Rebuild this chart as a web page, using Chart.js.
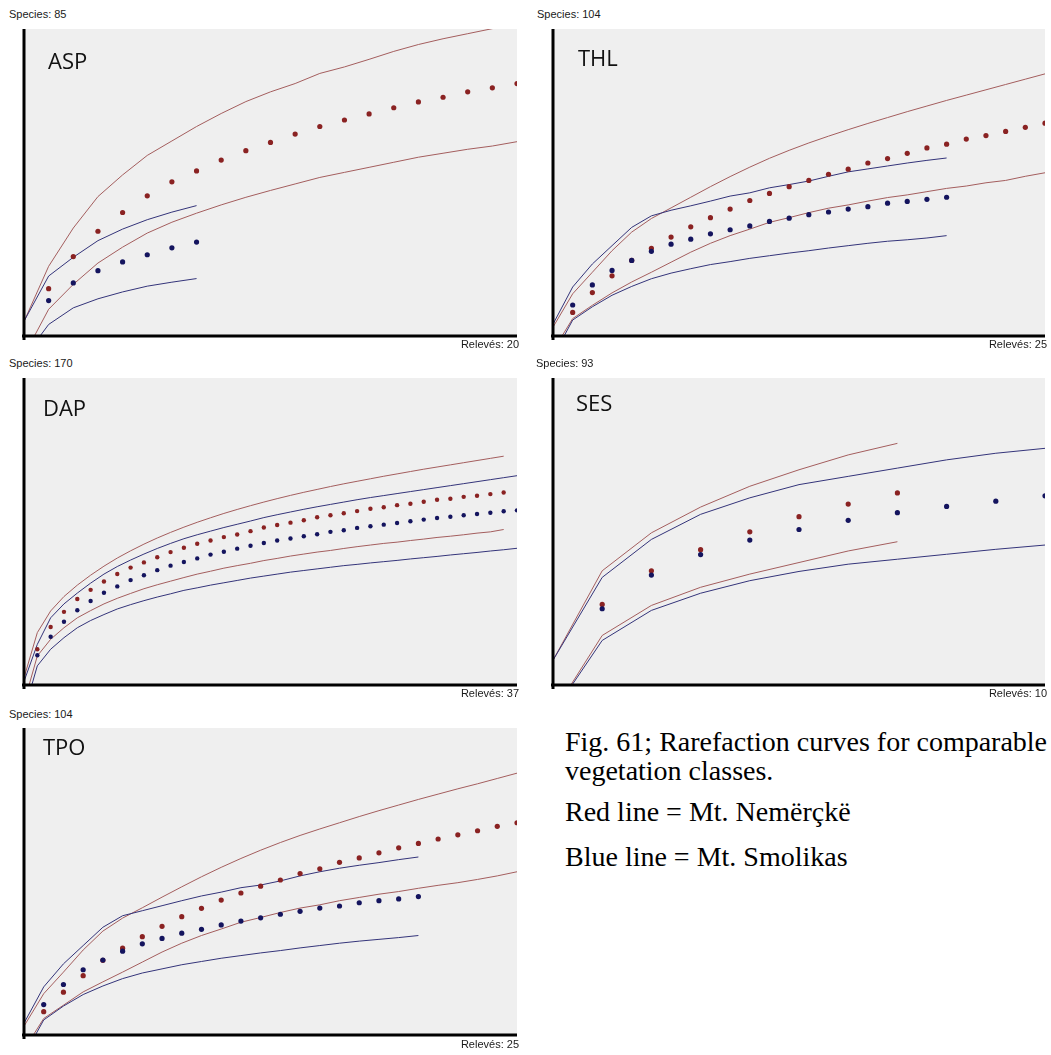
<!DOCTYPE html>
<html>
<head>
<meta charset="utf-8">
<script src="https://cdn.jsdelivr.net/npm/chart.js@4/dist/chart.umd.min.js"></script>
<style>
  html, body { margin: 0; padding: 0; background: #ffffff; }
  body { width: 1051px; height: 1055px; position: relative; overflow: hidden; }
  canvas { position: absolute; }
  .sp { position: absolute; font-family: "Liberation Sans", Arial, sans-serif; font-size: 11px; line-height: 11px; color: #1a1a1a; white-space: nowrap; }
  .rl { position: absolute; font-family: "Liberation Sans", Arial, sans-serif; font-size: 11px; line-height: 11px; color: #1a1a1a; white-space: nowrap; text-align: right; width: 120px; }
  .nm { position: absolute; font-family: "Open Sans", "Noto Sans", sans-serif; font-size: 22px; line-height: 22px; color: #111; white-space: nowrap; }
  .cap { position: absolute; font-family: "Liberation Serif", "Times New Roman", serif; font-size: 28px; line-height: 30px; color: #000; white-space: nowrap; }
</style>
</head>
<body>
<script>
// ---------- panel meta ----------
const panelNames = ['ASP', 'THL', 'DAP', 'SES', 'TPO'];
const panelSpeciesMax = [85, 104, 170, 93, 104];
const panelRelevesMax = [20, 25, 37, 10, 25];

// ---------- ASP (means start at relevé 1, bounds at relevé 0) ----------
const aspRedMean  = [13.1, 22.0, 29.0, 34.2, 38.8, 42.7, 45.7, 48.7, 51.3, 53.6, 55.9, 58.0, 59.8, 61.5, 63.2, 64.8, 66.1, 67.6, 68.7, 69.9];
const aspRedUpper = [4, 19.3, 29.9, 38.6, 44.6, 50.0, 54.0, 58.0, 61.6, 64.9, 67.6, 69.9, 72.7, 74.5, 76.6, 78.8, 80.7, 82.3, 83.7, 85.1, 86.6];
const aspRedLower = [-5.4, 7.4, 14.3, 20.2, 24.6, 28.5, 31.5, 34.0, 36.3, 38.4, 40.3, 42.1, 43.9, 45.3, 46.7, 48.1, 49.5, 50.6, 51.7, 52.6, 53.8];
const aspBlueMean  = [9.8, 14.7, 18.1, 20.5, 22.5, 24.4, 26.0];
const aspBlueUpper = [4.1, 16.6, 21.8, 26.4, 29.6, 32.2, 34.3, 36.1];
const aspBlueLower = [-6, 3.2, 7.8, 10.3, 12.2, 13.8, 14.9, 15.9];

// ---------- THL ----------
const thlRedMean  = [8.0, 14.7, 20.4, 25.6, 29.7, 33.5, 37.0, 40.1, 43.0, 45.9, 48.3, 50.6, 52.7, 54.8, 56.5, 58.6, 60.1, 61.9, 63.7, 65.0, 66.7, 67.9, 69.3, 70.7, 72.1];
const thlRedUpper = [3, 14.3, 21.6, 28.9, 35.2, 39.8, 43.4, 47.0, 50.6, 54.0, 57.2, 60.2, 62.9, 65.4, 67.7, 69.9, 72.0, 74.0, 76.0, 77.9, 79.8, 81.6, 83.4, 85.2, 87.0, 88.8];
const thlRedLower = [-5, 5.9, 10.4, 14.6, 18.3, 21.6, 25.0, 28.4, 31.4, 34.0, 36.2, 38.5, 40.1, 41.8, 43.3, 44.4, 45.7, 46.9, 47.8, 48.9, 50.0, 50.8, 51.9, 52.7, 54.1, 55.3];
const thlBlueMean  = [10.5, 17.3, 22.2, 25.6, 28.7, 31.1, 32.8, 34.6, 36.0, 37.3, 38.8, 39.9, 41.1, 42.0, 43.0, 43.8, 45.0, 45.6, 46.3, 47.0];
const thlBlueUpper = [4, 16.6, 24.4, 30.6, 36.8, 40.7, 42.6, 44.1, 45.7, 47.4, 48.5, 50.2, 51.3, 52.5, 54.1, 55.6, 56.6, 57.6, 58.6, 59.5, 60.3];
const thlBlueLower = [-7, 5.4, 9.9, 13.8, 16.8, 19.4, 21.3, 22.8, 24.2, 25.2, 26.3, 27.2, 28.1, 28.9, 29.8, 30.6, 31.4, 32.1, 32.6, 33.2, 34.0];

// ---------- DAP ----------
const dapRedMean  = [19.8, 32.1, 40.5, 47.6, 52.7, 57.3, 61.5, 65.0, 67.9, 70.7, 73.6, 76.0, 78.2, 80.0, 81.9, 83.3, 85.2, 87.2, 88.6, 89.9, 91.2, 92.9, 94.0, 95.1, 96.3, 97.6, 98.4, 99.6, 100.4, 101.5, 102.6, 103.1, 104.2, 104.8, 105.7, 106.6];
const dapRedUpper = [4, 29, 41.0, 49.0, 55.3, 60.8, 65.8, 70.3, 74.3, 78.0, 81.4, 84.5, 87.4, 90.1, 92.6, 95.0, 97.2, 99.3, 101.3, 103.2, 105.0, 106.7, 108.3, 109.9, 111.4, 112.8, 114.2, 115.6, 116.9, 118.2, 119.5, 120.7, 121.9, 123.1, 124.3, 125.5, 126.7];
const dapRedLower = [-10, 16.1, 25.3, 31.7, 37.2, 41.2, 44.9, 48.0, 50.7, 53.3, 55.5, 57.5, 59.5, 61.4, 63.0, 64.7, 66.1, 67.4, 68.9, 70.1, 71.4, 72.5, 73.6, 74.5, 75.6, 76.6, 77.5, 78.4, 79.1, 80.0, 80.8, 81.7, 82.4, 83.2, 84.1, 84.8, 86.1];
const dapBlueMean  = [16.5, 26.7, 35.0, 41.4, 46.5, 51.1, 54.6, 58.1, 60.8, 63.6, 66.1, 68.1, 70.1, 72.2, 73.8, 75.5, 77.1, 78.6, 80.0, 81.1, 82.4, 83.5, 84.8, 85.7, 87.0, 87.9, 88.8, 89.7, 90.7, 91.6, 92.5, 93.2, 94.0, 94.7, 95.4, 96.2, 96.7];
const dapBlueUpper = [2, 22.5, 37.2, 44.9, 50.9, 56.4, 61.4, 65.6, 69.2, 72.5, 75.6, 78.4, 81.0, 83.2, 85.2, 87.2, 89.0, 90.8, 92.7, 94.3, 95.8, 97.3, 98.7, 100.0, 101.3, 102.6, 103.8, 104.9, 106.0, 107.1, 108.2, 109.3, 110.4, 111.5, 112.6, 113.7, 114.8, 115.9];
const dapBlueLower = [-15, 10.6, 19.8, 26.2, 31.7, 35.7, 39.0, 42.1, 44.5, 46.7, 48.7, 50.5, 52.4, 53.8, 55.3, 56.6, 57.9, 59.2, 60.3, 61.4, 62.5, 63.4, 64.3, 65.2, 66.1, 66.8, 67.6, 68.3, 69.0, 69.8, 70.5, 71.2, 72.0, 72.7, 73.4, 74.2, 74.9, 75.7];

// ---------- SES ----------
const sesRedMean  = [24.4, 34.6, 41.0, 46.4, 51.0, 54.8, 58.2];
const sesRedUpper = [7.5, 34.6, 46.1, 53.9, 60.2, 65.2, 69.7, 73.2];
const sesRedLower = [-8.5, 15.0, 24.1, 29.6, 33.6, 37.1, 40.6, 43.4];
const sesBlueMean  = [23.1, 33.3, 39.5, 43.9, 47.1, 49.9, 52.2, 54.1, 55.7, 57.3];
const sesBlueUpper = [7.5, 32.6, 44.1, 51.7, 56.7, 60.7, 63.2, 65.7, 68.2, 70.2, 71.7];
const sesBlueLower = [-8.5, 13.5, 22.6, 27.8, 31.6, 34.4, 36.6, 38.1, 39.6, 41.1, 42.4];

// ---------- TPO ----------
const tpoRedMean  = [7.9, 14.5, 20.1, 25.3, 29.4, 33.3, 36.8, 40.1, 42.9, 45.7, 48.1, 50.4, 52.5, 54.7, 56.3, 58.5, 60.0, 61.7, 63.4, 64.9, 66.4, 67.8, 69.2, 70.7, 71.9];
const tpoRedUpper = [3, 14.0, 21.3, 28.8, 35.2, 39.6, 43.1, 46.7, 50.2, 53.6, 56.8, 59.8, 62.6, 65.2, 67.6, 69.8, 71.9, 74.0, 76.0, 77.9, 79.8, 81.6, 83.4, 85.1, 86.9, 88.7];
const tpoRedLower = [-5, 5.6, 10.1, 14.6, 18.0, 21.3, 24.7, 28.1, 31.1, 33.7, 35.9, 38.2, 39.8, 41.5, 43.0, 44.1, 45.5, 46.6, 47.7, 48.6, 49.7, 50.7, 51.6, 52.7, 53.9, 55.3];
const tpoBlueMean  = [10.3, 17.1, 22.1, 25.4, 28.4, 30.9, 32.7, 34.5, 35.8, 37.3, 38.6, 39.7, 40.9, 41.9, 43.0, 43.7, 44.8, 45.5, 46.1, 46.9];
const tpoBlueUpper = [4, 16.3, 24.1, 30.3, 36.5, 40.4, 42.1, 43.8, 45.5, 47.1, 48.4, 49.9, 50.8, 52.2, 53.9, 55.3, 56.5, 57.5, 58.4, 59.4, 60.3];
const tpoBlueLower = [-7, 5.1, 9.8, 13.7, 16.6, 19.1, 21.0, 22.4, 23.8, 24.9, 26.0, 26.9, 27.8, 28.6, 29.5, 30.3, 31.1, 31.8, 32.4, 33.0, 33.7];

// ---------- caption ----------
const captionLines = ['Fig. 61; Rarefaction curves for comparable', 'vegetation classes.'];
const legendRed = 'Red line = Mt. Nemërçkë';
const legendBlue = 'Blue line = Mt. Smolikas';

// ---------- styling / layout ----------
const RED_DOT = '#8a2222';
const BLUE_DOT = '#14145e';
const RED_LINE = '#a45e5e';
const BLUE_LINE = '#34347a';
const PLOT_BG = '#efefef';

const seriesSets = [
  [aspRedMean, aspRedUpper, aspRedLower, aspBlueMean, aspBlueUpper, aspBlueLower],
  [thlRedMean, thlRedUpper, thlRedLower, thlBlueMean, thlBlueUpper, thlBlueLower],
  [dapRedMean, dapRedUpper, dapRedLower, dapBlueMean, dapBlueUpper, dapBlueLower],
  [sesRedMean, sesRedUpper, sesRedLower, sesBlueMean, sesBlueUpper, sesBlueLower],
  [tpoRedMean, tpoRedUpper, tpoRedLower, tpoBlueMean, tpoBlueUpper, tpoBlueLower]
];

// plot rectangles (page px): left, top, right, bottom ; label positions
const layouts = [
  {l: 24,  t: 27,  r: 517,  b: 336,  spX: 9,   spY: 15,  relY: 345,  relR: 519,  nmX: 48,  nmT: 49,  dot: 2.6},
  {l: 553, t: 27,  r: 1045, b: 336,  spX: 537, spY: 15,  relY: 345,  relR: 1047, nmX: 578, nmT: 46,  dot: 2.6},
  {l: 24,  t: 376, r: 517,  b: 685,  spX: 9,   spY: 364, relY: 694,  relR: 519,  nmX: 43,  nmT: 396, dot: 2.2},
  {l: 553, t: 376, r: 1045, b: 685,  spX: 536, spY: 364, relY: 694,  relR: 1047, nmX: 576, nmT: 391, dot: 2.6},
  {l: 24,  t: 726, r: 517,  b: 1035, spX: 9,   spY: 715, relY: 1045, relR: 519,  nmX: 43,  nmT: 735, dot: 2.6}
];

const PADL = 4, PADT = 2, PADR = 4, PADB = 8;

function toPoints(arr, start) {
  return arr.map((v, i) => ({x: i + start, y: v}));
}

const frame = {
  id: 'frame',
  beforeDatasetsDraw(chart) {
    const a = chart.chartArea, c = chart.ctx;
    c.save();
    c.fillStyle = PLOT_BG;
    c.fillRect(a.left, a.top, a.right - a.left, a.bottom - a.top);
    c.restore();
  },
  afterDraw(chart) {
    const a = chart.chartArea, c = chart.ctx;
    c.save();
    c.strokeStyle = '#000';
    c.lineWidth = 3;
    c.beginPath();
    c.moveTo(a.left, a.top);
    c.lineTo(a.left, a.bottom + 4);
    c.stroke();
    c.beginPath();
    c.moveTo(a.left - 2, a.bottom);
    c.lineTo(a.right, a.bottom);
    c.stroke();
    c.restore();
  }
};

function addDiv(cls, text, styles) {
  const d = document.createElement('div');
  d.className = cls;
  d.textContent = text;
  Object.assign(d.style, styles);
  document.body.appendChild(d);
  return d;
}

panelNames.forEach((name, p) => {
  const L = layouts[p];
  const [rm, ru, rlo, bm, bu, blo] = seriesSets[p];
  const cv = document.createElement('canvas');
  const w = L.r - L.l + PADL + PADR;
  const h = L.b - L.t + PADT + PADB;
  cv.width = w; cv.height = h;
  cv.style.left = (L.l - PADL) + 'px';
  cv.style.top = (L.t - PADT) + 'px';
  cv.style.width = w + 'px';
  cv.style.height = h + 'px';
  document.body.appendChild(cv);

  const lineDs = (arr, col) => ({data: toPoints(arr, 0), showLine: true, borderColor: col, borderWidth: 1, pointRadius: 0, fill: false, tension: 0});
  const dotDs = (arr, col) => ({data: toPoints(arr, 1), showLine: false, pointRadius: L.dot, pointBackgroundColor: col, pointBorderColor: col, pointBorderWidth: 0});

  new Chart(cv, {
    type: 'scatter',
    data: {
      datasets: [
        dotDs(bm, BLUE_DOT),
        dotDs(rm, RED_DOT),
        lineDs(bu, BLUE_LINE),
        lineDs(blo, BLUE_LINE),
        lineDs(ru, RED_LINE),
        lineDs(rlo, RED_LINE)
      ]
    },
    options: {
      responsive: false,
      maintainAspectRatio: false,
      animation: false,
      devicePixelRatio: 1,
      events: [],
      layout: {padding: {left: PADL, top: PADT, right: PADR, bottom: PADB}},
      scales: {
        x: {type: 'linear', min: 0, max: panelRelevesMax[p], display: false},
        y: {type: 'linear', min: 0, max: panelSpeciesMax[p], display: false}
      },
      plugins: {legend: {display: false}, tooltip: {enabled: false}, title: {display: false}}
    },
    plugins: [frame]
  });

  addDiv('sp', 'Species: ' + panelSpeciesMax[p], {left: L.spX + 'px', top: (L.spY - 6) + 'px'});
  addDiv('rl', 'Relevés: ' + panelRelevesMax[p], {left: (L.relR - 120) + 'px', top: (L.relY - 6) + 'px'});
  addDiv('nm', name, {left: L.nmX + 'px', top: L.nmT + 'px'});
});

addDiv('cap', captionLines[0], {left: '565px', top: '727px'});
addDiv('cap', captionLines[1], {left: '565px', top: '756px'});
addDiv('cap', legendRed, {left: '565px', top: '797px'});
addDiv('cap', legendBlue, {left: '565px', top: '842px'});
</script>
</body>
</html>
